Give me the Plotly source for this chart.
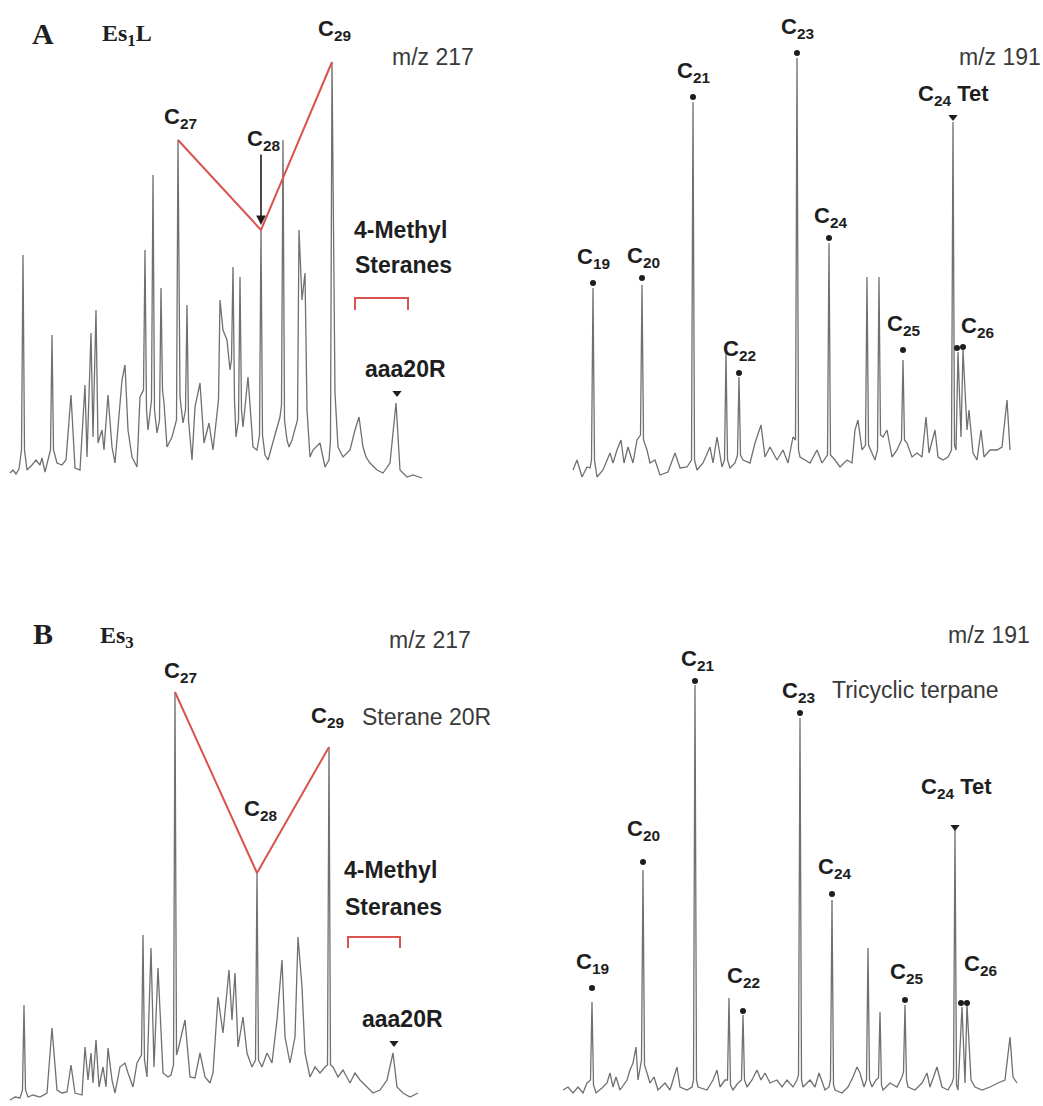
import plotly.graph_objects as go

# ---- chromatogram readings: (retention position, relative intensity) ----
A217 = [(10,7),(13,10),(16,6),(19,11),(21.5,30),(23,225),(24.5,30),(27,10),(32,15),(36,20),(40,15),(42,22),(45,8),
        (50.5,30),(52,145),(53.5,30),(57,17),(62,15),(66,20),(71,85),(75,12),(80,10),(85,95),(87,23),(91,147),(93,43),
        (96,170),(98,37),(102,50),(104,30),(108,85),(112,33),(115,17),(122,100),(125,115),(128,50),
        (132,23),(137,13),(140,83),(143.5,90),(145,230),(146.5,70),(148,50),(151.5,80),(153,305),(154.5,70),
        (157,47),(159.5,60),(161,192),(162.5,90),(164,77),(167,33),
        (172,43),(176.5,60),(178,340),(180,83),(183,57),(185.5,70),(187,175),(188.5,60),(192,20),(195,73),(200,97),(204,37),(209,57),
        (213,30),(218.5,80),(220,180),(223,150),(227,140),(230,110),(231.5,120),(233,213),(234.5,80),(236,43),
        (238.5,60),(240,203),(241.5,70),(243,53),
        (248,103),(253,33),(257,30),(259.5,45),(261,250),(262.5,45),(265,25),(268,20),(277,53),(280,63),
        (281.5,75),(283,340),(284.5,60),(287,40),
        (289,33),(292,40),(297.5,60),(299,250),(302,180),(305,207),(307,70),(310,23),(313,30),(320,37),(325,13),
        (329,20),(330.5,40),(332,418),(335,87),(338,33),(343,23),(350,30),(355,50),(359,63),(363,33),(366,23),
        (370,17),(377,10),(383,7),(390,17),(396,77),(400,10),(407,3),(413,5),(422,2)]

A191 = [(573,10),(577,20),(582,3),(587,13),(590,12),(591.5,20),(593,192),(594.5,20),(597,3),(603,10),(610,27),(613,17),
        (617,30),(621,40),(624,17),(628,33),(633,17),(637,40),(640.5,45),(642,195),(643.5,40),(647,30),(650,17),(655,20),
        (660,5),(668,8),(675,27),(680,12),(687,13),(691.5,20),(693,378),(694.5,20),(697,10),(703,17),(710,33),(713,17),
        (717,43),(722,13),(724.5,20),(726,127),(727.5,20),(730,12),(735,17),(737.5,25),(739,103),(740.5,25),
        (743,20),(750,17),(755,37),(761,55),
        (765,23),(770,33),(777,20),(783,30),(788,17),(793,43),(795.5,40),(797,422),(798.5,30),(800,23),(805,20),(810,17),
        (817,30),(822,17),(827.5,25),(829,237),(830.5,25),(835,20),(840,13),(847,20),(852,17),(855,50),(858,60),(862,30),
        (865.5,35),(867,203),(868.5,35),(872,27),(875,20),(877.5,30),(879,203),(880.5,45),(883,43),(887,50),(892,23),
        (897,30),(901.5,40),(903,120),(904.5,40),(907,37),
        (912,23),(917,27),(922,23),(926,63),(929,27),(935,50),(938,23),(943,20),(948,23),(951.5,30),(953,358),(954.5,35),
        (956,30),(958,128),(961,43),(963,130),(967,50),(969,70),(973,27),(977,20),(981,50),(984,23),
        (990,30),(997,30),(1002,33),(1007,80),(1010,30)]

B217 = [(10,0),(15,3),(20,2),(22.5,10),(24,95),(25.5,10),(28,3),(33,5),(40,3),(47,7),(52,72),(57,10),(62,7),(67,8),
        (71,35),(75,7),(82,5),(85,53),(88,20),(91,47),(93,17),(96,60),(99,13),(103,33),(106,13),
        (108,52),(112,20),(115,7),(120,33),(125,37),(128,27),(133,13),(137,37),(141.5,45),(143,165),(144.5,40),(147,23),
        (151,152),(154,33),(158,132),(163,27),(168,23),(171,25),(173.5,35),(175,408),(176.5,45),(178,50),(185,80),(190,23),
        (195,22),(200,47),(205,23),(210,17),(213,27),(218,103),(223,67),(229,130),(232,80),(235,127),
        (238,53),(243,83),(247,47),(252,33),(255.5,40),(257,227),(258.5,40),(262,33),(267,47),(272,37),(277,80),(282,140),
        (285,63),(290,37),(295,63),(298,163),(302,113),(305,47),(310,23),(315,33),(320,27),(325,33),
        (327.5,35),(329,353),(330.5,35),(333,33),(338,23),(343,30),(350,17),(355,27),(360,20),(367,13),(373,7),(380,10),
        (387,20),(393,47),(397,13),(403,7),(410,3),(418,7)]

B191 = [(563,10),(568,13),(573,7),(578,13),(583,7),(587,17),(590.5,20),(592,98),(593.5,15),(596,7),(602,12),(607,17),
        (610,27),(613,13),(616,23),(620,10),(627,20),(630,30),(633,37),(636,53),(638,20),(641.5,40),(643,230),(644.5,35),
        (647,27),(650,17),(654,23),(658,10),(665,17),(670,10),(677,33),(680,13),(687,10),(692,13),
        (693.5,20),(695,415),(696.5,20),(698,13),(707,10),(713,20),(717,30),(720,13),(725,20),(727.5,20),(729,102),(730.5,15),
        (733,10),(738,17),(741.5,20),(743,85),(744.5,20),(747,13),(752,20),(757,30),(761,20),(765,27),(770,17),(777,20),
        (782,13),(787,20),(793,13),(797,20),(798.5,25),(800,382),(801.5,20),(803,13),(810,20),(815,13),(819,27),(825,10),
        (829,13),(830.5,20),(832,200),(833.5,15),
        (835,10),(842,7),(848,13),(853,23),(857,33),(860,27),(864,13),(866.5,20),(868,152),(869.5,20),(872,13),(876,20),
        (878.5,22),(880,88),(881.5,15),(883,10),(890,17),(897,13),(902,23),(903.5,28),(905,95),(906.5,20),(908,13),
        (915,10),(922,17),(927,27),
        (930,13),(937,33),(942,13),(948,10),(952,17),(953.5,22),(955,270),(956.5,15),(958,10),(962,93),(965,17),(967,95),
        (971,20),(975,13),(982,10),(990,13),(998,17),(1005,20),(1010,63),(1013,23),(1017,17)]

# peak identifications: (label, peak position)
A217_STERANES = [("C<sub>27</sub>", 178), ("C<sub>28</sub>", 261), ("C<sub>29</sub>", 332)]
B217_STERANES = [("C<sub>27</sub>", 175), ("C<sub>28</sub>", 257), ("C<sub>29</sub>", 329)]
A217_AAA20R = 396
B217_AAA20R = 393
A191_PEAKS = ["C<sub>19</sub>", "C<sub>20</sub>", "C<sub>21</sub>", "C<sub>22</sub>", "C<sub>23</sub>",
              "C<sub>24</sub>", "C<sub>25</sub>", "C<sub>26</sub>", "C<sub>24</sub> Tet"]
A191_POS = [593, 642, 693, 739, 797, 829, 903, 963, 953]
A191_C26_FIRST = 958
B191_POS = [592, 643, 695, 743, 800, 832, 905, 967, 955]
B191_C26_FIRST = 962

# ---- styling ----
TRACE = "#707070"
RED = "#d9534f"
INK = "#1e1e1e"
LBL_FONT = "Liberation Sans Narrow, Arial Narrow, Liberation Sans, Arial"
SANS = "Liberation Sans, Arial"
SERIF = "Liberation Serif, Times New Roman"


def height(pairs, x):
    for px, py in pairs:
        if px == x:
            return py
    raise KeyError(x)


fig = go.Figure()
axes = [("x", "y", A217), ("x2", "y2", A191), ("x3", "y3", B217), ("x4", "y4", B191)]
for xa, ya, pairs in axes:
    fig.add_trace(go.Scatter(x=[p[0] for p in pairs], y=[p[1] for p in pairs], mode="lines",
                             line=dict(color=TRACE, width=1.3), xaxis=xa, yaxis=ya,
                             showlegend=False, hoverinfo="skip"))

annotations = []


def label(xa, ya, x, y, text, size=22, font=LBL_FONT, color=INK, xanchor="center", bold=True):
    annotations.append(dict(xref=xa, yref=ya, x=x, y=y, text=(f"<b>{text}</b>" if bold else text),
                            showarrow=False, xanchor=xanchor, yanchor="middle",
                            font=dict(family=font, size=size, color=color)))


# m/z 217 panels: red V through sterane peaks
for xa, ya, pairs, ster, aaa, offs in [
        ("x", "y", A217, A217_STERANES, A217_AAA20R, [(2, 22), (2, 90), (2, 32)]),
        ("x3", "y3", B217, B217_STERANES, B217_AAA20R, [(5, 20), (3, 63), (-2, 30)])]:
    xs = [p for _, p in ster]
    ys = [height(pairs, p) for p in xs]
    fig.add_trace(go.Scatter(x=xs, y=ys, mode="lines", line=dict(color=RED, width=2),
                             xaxis=xa, yaxis=ya, showlegend=False, hoverinfo="skip"))
    for (t, p), (dx, dy) in zip(ster, offs):
        label(xa, ya, p + dx, height(pairs, p) + dy, t)
    h = height(pairs, aaa)
    fig.add_trace(go.Scatter(x=[aaa + 1], y=[h + 10], mode="markers",
                             marker=dict(symbol="triangle-down", size=8, color=INK),
                             xaxis=xa, yaxis=ya, showlegend=False, hoverinfo="skip"))
    label(xa, ya, aaa + 9, h + 34, "aaa20R", size=23, font=SANS)

# Panel A 217 extras
h28 = height(A217, 261)
annotations.append(dict(xref="x", yref="y", x=261, y=h28 + 5, ax=261, ay=h28 + 77,
                        axref="x", ayref="y", text="", showarrow=True, arrowhead=2,
                        arrowsize=1.2, arrowwidth=1.6, arrowcolor=INK))
label("x", "y", 43, 447, "A", size=30, font=SERIF)
label("x", "y", 127, 445, "Es<sub>1</sub>L", size=24, font=SERIF)
label("x", "y", 433, 423, "m/z 217", size=23, font=SANS, color="#3a3a3a", bold=False)
label("x", "y", 400, 250, "4-Methyl", size=23, font=SANS)
label("x", "y", 403, 215, "Steranes", size=23, font=SANS)

label("x3", "y3", 43, 467, "B", size=30, font=SERIF)
label("x3", "y3", 117, 463, "Es<sub>3</sub>", size=24, font=SERIF)
label("x3", "y3", 430, 460, "m/z 217", size=23, font=SANS, color="#3a3a3a", bold=False)
label("x3", "y3", 360, 383, "Sterane 20R", size=23, font=SANS, color="#3a3a3a", xanchor="left", bold=False)
label("x3", "y3", 390, 230, "4-Methyl", size=23, font=SANS)
label("x3", "y3", 393, 193, "Steranes", size=23, font=SANS)

shapes = [
    dict(type="path", xref="x", yref="y", path="M 355,170 L 355,182 L 408,182 L 408,170",
         line=dict(color=RED, width=2)),
    dict(type="path", xref="x3", yref="y3", path="M 348,152 L 348,163 L 400,163 L 400,152",
         line=dict(color=RED, width=2)),
]

# m/z 191 panels
for xa, ya, pairs, pos, first26, dots, labs in [
        ("x2", "y2", A191, A191_POS, A191_C26_FIRST,
         [5, 7, 5, 4, 5, 5, 10, 3, 5], [(0, 30), (1, 28), (0, 30), (0, 27), (0, 30), (1, 26), (0, 35), (14, 23), (0, 27)]),
        ("x4", "y4", B191, B191_POS, B191_C26_FIRST,
         [14, 8, 4, 4, 5, 6, 5, 2, 3], [(0, 39), (0, 40), (2, 25), (0, 38), (-2, 26), (2, 32), (1, 32), (13, 40), (1, 42)])]:
    dx_, dy_ = [], []
    for i, (name, p) in enumerate(zip(A191_PEAKS, pos)):
        h = height(pairs, p)
        if name.endswith("Tet"):
            fig.add_trace(go.Scatter(x=[p], y=[h + dots[i]], mode="markers",
                                     marker=dict(symbol="triangle-down", size=8, color=INK),
                                     xaxis=xa, yaxis=ya, showlegend=False, hoverinfo="skip"))
        else:
            dx_.append(p)
            dy_.append(h + dots[i])
        label(xa, ya, p + labs[i][0], h + labs[i][1], name)
    h1 = height(pairs, first26)
    dx_.append(first26 - 1)
    dy_.append(h1 + 4)
    fig.add_trace(go.Scatter(x=dx_, y=dy_, mode="markers", marker=dict(size=6, color=INK),
                             xaxis=xa, yaxis=ya, showlegend=False, hoverinfo="skip"))

label("x2", "y2", 1000, 423, "m/z 191", size=23, font=SANS, color="#3a3a3a", bold=False)
label("x4", "y4", 989, 465, "m/z 191", size=23, font=SANS, color="#3a3a3a", bold=False)
label("x4", "y4", 830, 410, "Tricyclic terpane", size=23, font=SANS, color="#3a3a3a", xanchor="left", bold=False)

ax_common = dict(visible=False, fixedrange=True)
fig.update_layout(
    width=1043, height=1106, autosize=False,
    margin=dict(l=0, r=0, t=0, b=0),
    paper_bgcolor="white", plot_bgcolor="white",
    xaxis=dict(domain=[0, 0.5], range=[0, 521.5], anchor="y", **ax_common),
    yaxis=dict(domain=[0.5, 1], range=[-73, 480], anchor="x", **ax_common),
    xaxis2=dict(domain=[0.5, 1], range=[521.5, 1043], anchor="y2", **ax_common),
    yaxis2=dict(domain=[0.5, 1], range=[-73, 480], anchor="x2", **ax_common),
    xaxis3=dict(domain=[0, 0.5], range=[0, 521.5], anchor="y3", **ax_common),
    yaxis3=dict(domain=[0, 0.5], range=[-6, 547], anchor="x3", **ax_common),
    xaxis4=dict(domain=[0.5, 1], range=[521.5, 1043], anchor="y4", **ax_common),
    yaxis4=dict(domain=[0, 0.5], range=[-6, 547], anchor="x4", **ax_common),
    annotations=annotations, shapes=shapes, showlegend=False,
)

fig.write_html("out.html")
